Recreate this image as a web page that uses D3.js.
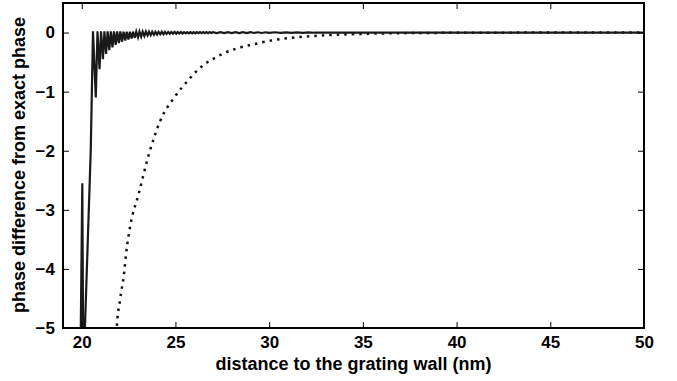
<!DOCTYPE html>
<html>
<head>
<meta charset="utf-8">
<script src="https://cdn.jsdelivr.net/npm/d3@7"></script>
<style>
  body { margin: 0; background: #fff; }
  svg text { font-family: "Liberation Sans", Arial, sans-serif; font-weight: bold; fill: #000; }
</style>
</head>
<body>
<div id="chart"></div>
<script>
// x / y ticks
const xTicks = [20, 25, 30, 35, 40, 45, 50];
const yTicks = [-5, -4, -3, -2, -1, 0];

// solid curve (numerical phase difference)
const solidX = [19.85, 20.03, 20.12, 20.17, 20.48, 20.6,
  20.75, 20.84, 20.95, 21.03, 21.13, 21.21, 21.30, 21.38, 21.47, 21.55,
  21.64, 21.72, 21.81, 21.89, 21.98, 22.06, 22.15, 22.23, 22.32, 22.40,
  22.49, 22.57, 22.66, 22.74, 22.83, 22.91, 23.00, 23.08, 23.17, 23.25,
  23.34, 23.42, 23.51, 23.59, 23.68, 23.76, 23.85, 23.93, 24.02, 24.10,
  24.19, 24.27, 24.36, 24.44, 24.53, 24.61, 24.70, 24.78, 24.87, 24.95,
  25.04, 25.12, 25.21, 25.29, 25.38, 25.46, 25.55, 25.63, 25.72, 25.80,
  25.89, 25.97, 26.06, 26.14, 26.23, 26.31, 26.40, 26.48, 26.57, 26.65,
  26.74, 26.82, 26.91, 27.0, 27.2, 27.4, 27.6, 27.8, 28.0, 28.2,
  28.4, 28.6, 28.8, 29.0, 29.2, 29.4, 29.6, 29.8, 30.0, 30.3,
  30.6, 30.9, 31.2, 31.5, 31.8, 32.1, 32.4, 33.0, 34.0, 50];
const solidY = [-8, -2.55, -8, -5, -2, 0.02,
  -1.1, 0.02, -0.62, 0.02, -0.45, 0.02, -0.36, 0.02, -0.30, 0.02,
  -0.25, 0.02, -0.21, 0.02, -0.18, 0.02, -0.155, 0.015, -0.135, 0.015,
  -0.12, 0.015, -0.10, 0.015, -0.09, 0.015, -0.08, 0.015, -0.07, 0.015,
  -0.06, 0.015, -0.05, 0.015, -0.045, 0.012, -0.04, 0.012, -0.035, 0.012,
  -0.03, 0.012, -0.028, 0.012, -0.025, 0.01, -0.022, 0.01, -0.02, 0.01,
  -0.018, 0.01, -0.016, 0.008, -0.015, 0.008, -0.014, 0.008, -0.013, 0.008,
  -0.012, 0.008, -0.012, 0.008, -0.011, 0.008, -0.011, 0.007, -0.010, 0.007,
  -0.010, 0.007, -0.009, 0.007, -0.009, 0.007, -0.009, 0.006, -0.008, 0.006,
  -0.008, 0.006, -0.008, 0.006, -0.007, 0.005, -0.007, 0.005, -0.006, 0.005,
  -0.006, 0.004, -0.005, 0.004, -0.004, 0.003, -0.003, 0, 0, 0];

// dotted curve (approximation)
const dotX = [21.8, 21.87, 22.04, 22.26, 22.36, 22.6, 23.02, 23.6, 24.18, 24.98,
  25.7, 26.1, 26.67, 27.1, 27.65, 28.27, 29.15, 30.2, 31.65, 33.4, 35, 37, 40, 44, 50];
const dotY = [-5.6, -5.0, -4.53, -4.07, -3.76, -3.25, -2.75, -2.04, -1.5, -1.08,
  -0.8, -0.66, -0.51, -0.43, -0.34, -0.27, -0.2, -0.13, -0.075, -0.04, -0.022, -0.011, -0.004, -0.001, 0];

const W = 677, H = 381;
const margin = {top: 3, right: 33, bottom: 53, left: 63};
const w = W - margin.left - margin.right;
const h = H - margin.top - margin.bottom;

const svg = d3.select("#chart").append("svg")
    .attr("width", W)
    .attr("height", H);

const g = svg.append("g")
    .attr("transform", "translate(" + margin.left + "," + margin.top + ")");

const x = d3.scaleLinear().domain([19, 50]).range([0, w]);
const y = d3.scaleLinear().domain([-5, 0.5]).range([h, 0]);

g.append("clipPath").attr("id", "clip")
  .append("rect").attr("width", w).attr("height", h);

const line = d3.line()
    .x(function(d) { return x(d[0]); })
    .y(function(d) { return y(d[1]); });

const plot = g.append("g").attr("clip-path", "url(#clip)");

plot.append("path")
    .datum(dotX.map(function(v, i) { return [v, dotY[i]]; }))
    .attr("d", line.curve(d3.curveMonotoneX))
    .attr("fill", "none")
    .attr("stroke", "#111")
    .attr("stroke-width", 2.5)
    .attr("stroke-dasharray", "2.5,5");

plot.append("path")
    .datum(solidX.map(function(v, i) { return [v, solidY[i]]; }))
    .attr("d", line.curve(d3.curveLinear))
    .attr("fill", "none")
    .attr("stroke", "#1a1a1a")
    .attr("stroke-width", 2.2)
    .attr("stroke-linejoin", "miter");

// inward ticks on all four sides
const tickLen = 6;
const fmt = function(d) { return d < 0 ? "\u2212" + Math.abs(d) : String(d); };

const xAxisB = d3.axisBottom(x).tickValues(xTicks).tickSizeInner(-tickLen).tickSizeOuter(0).tickPadding(8).tickFormat(fmt);
const xAxisT = d3.axisTop(x).tickValues(xTicks).tickSizeInner(-tickLen).tickSizeOuter(0).tickFormat("");
const yAxisL = d3.axisLeft(y).tickValues(yTicks).tickSizeInner(-tickLen).tickSizeOuter(0).tickPadding(8).tickFormat(fmt);
const yAxisR = d3.axisRight(y).tickValues(yTicks).tickSizeInner(-tickLen).tickSizeOuter(0).tickFormat("");

function style(sel) {
  sel.select(".domain").remove();
  sel.selectAll("line").attr("stroke", "#000").attr("stroke-width", 1);
  sel.selectAll("text").attr("font-size", 17).attr("font-weight", "bold")
     .attr("font-family", "'Liberation Sans', Arial, sans-serif").attr("fill", "#000");
}

g.append("g").attr("transform", "translate(0," + h + ")").call(xAxisB).call(style);
g.append("g").call(xAxisT).call(style);
g.append("g").call(yAxisL).call(style);
g.append("g").attr("transform", "translate(" + w + ",0)").call(yAxisR).call(style);

// frame
g.append("rect")
    .attr("width", w)
    .attr("height", h)
    .attr("fill", "none")
    .attr("stroke", "#000")
    .attr("stroke-width", 2);

// axis labels
svg.append("text")
    .attr("x", margin.left + w / 2)
    .attr("y", 370)
    .attr("text-anchor", "middle")
    .attr("font-size", 18)
    .text("distance to the grating wall (nm)");

svg.append("text")
    .attr("transform", "translate(25," + 165 + ") rotate(-90)")
    .attr("text-anchor", "middle")
    .attr("font-size", 18)
    .text("phase difference from exact phase");
</script>
</body>
</html>
